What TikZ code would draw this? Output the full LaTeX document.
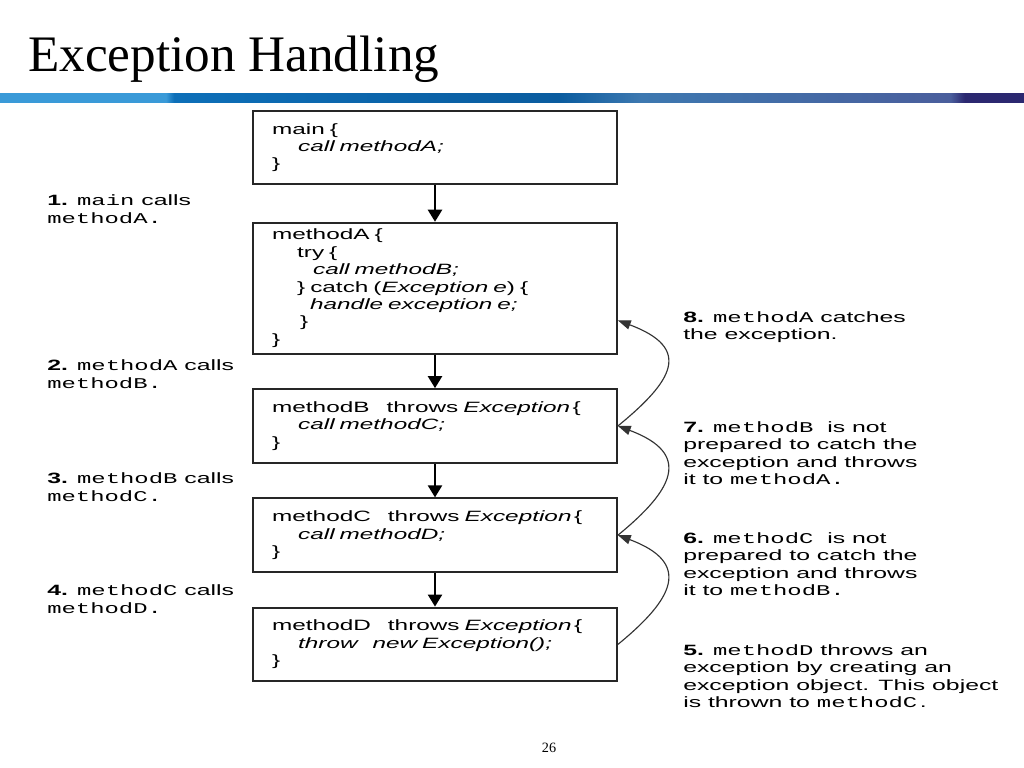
\documentclass[tikz,border=0pt]{standalone}
\usepackage{fontspec}
\usepackage{tikz}
\usetikzlibrary{positioning,arrows.meta}
\setmainfont{Liberation Serif}
\newfontfamily\boxsans[FakeStretch=1.63]{Liberation Sans}
\newfontfamily\labelsans[FakeStretch=1.66]{Liberation Sans}
\newfontfamily\boxmono[FakeStretch=1.6]{Liberation Mono}
\definecolor{barA}{HTML}{3A9AD8}
\definecolor{barB}{HTML}{0D6FB8}
\definecolor{barC}{HTML}{0A5C9F}
\definecolor{barD}{HTML}{3D78B0}
\definecolor{barE}{HTML}{4A5E9C}
\definecolor{barF}{HTML}{2B2870}
\pgfdeclarehorizontalshading{titlebar}{100bp}{color(0bp)=(barA); color(33.1bp)=(barA);
  color(33.5bp)=(barB); color(52.3bp)=(barC); color(56.3bp)=(barD);
  color(71.4bp)=(barE); color(72.1bp)=(barF); color(100bp)=(barF)}
\begin{document}
\begin{tikzpicture}[x=0.703125pt, y=-0.703125pt, node distance=23.6pt,
    code box/.style={draw=black!85, line width=1.4pt, text width=229pt, inner xsep=13.4pt,
      align=left, minimum height=51.8pt, font=\boxsans\fontsize{10.5}{12.2}\selectfont},
    step label/.style={inner sep=0pt, align=left, font=\labelsans\fontsize{10.5}{12.3}\selectfont},
    call arrow/.style={line width=1.4pt, -{Triangle[length=8.5pt,width=10pt]}},
    throw arrow/.style={black!80, line width=0.8pt, -{Triangle[length=9pt,width=6.5pt]}}]

  \useasboundingbox[fill=white] (0,0) rectangle (1024,768);

  % slide title and bar
  \node[anchor=base west, inner sep=0pt, font=\fontsize{36}{40}\selectfont] (title) at (28,72) {Exception Handling};
  \fill[shading=titlebar] (0,94) rectangle (1024,103);
  \node[font=\fontsize{10}{12}\selectfont] (page) at (549,748) {26};

  % call chain
  \node[code box, minimum height=51pt] (main) at (435,147.5) {main \{\\
    \hspace*{18.3pt}\textit{call methodA;}\\
    \}};
  \node[code box, minimum height=92pt] (A) [below=26pt of main] {methodA \{\\
    \hspace*{17.6pt}try \{\\
    \hspace*{28.8pt}\textit{call methodB;}\\
    \hspace*{17.6pt}\} catch (\textit{Exception e}) \{\\
    \hspace*{26.7pt}\textit{handle exception e;}\\
    \hspace*{19.7pt}\}\\
    \}};
  \node[code box] (B) [below=of A] {methodB\hspace{12pt}throws\ \textit{Exception}\,\{\\
    \hspace*{18.3pt}\textit{call methodC;}\\
    \}};
  \node[code box] (C) [below=of B] {methodC\hspace{12pt}throws\ \textit{Exception}\,\{\\
    \hspace*{18.3pt}\textit{call methodD;}\\
    \}};
  \node[code box] (D) [below=of C] {methodD\hspace{12pt}throws\ \textit{Exception}\,\{\\
    \hspace*{18.3pt}\textit{throw\ \ \ new Exception();}\\
    \}};

  \path[call arrow]
    (main) edge (A)
    (A) edge (B)
    (B) edge (C)
    (C) edge (D);

  % exception travels back up
  \draw[throw arrow] (D.east) .. controls +(55,-45) and +(75,28) .. (C.east);
  \draw[throw arrow] (C.east) .. controls +(55,-45) and +(75,28) .. (B.east);
  \draw[throw arrow] (B.east) .. controls +(55,-45) and +(75,28) .. (A.-10);

  % left notes
  \node[step label, anchor=west] (n1) at (47,209) {\textbf{1.} {\boxmono main} calls\\{\boxmono methodA.}};
  \node[step label, anchor=west] (n2) at (47,374) {\textbf{2.} {\boxmono methodA} calls\\{\boxmono methodB.}};
  \node[step label, anchor=west] (n3) at (47,487) {\textbf{3.} {\boxmono methodB} calls\\{\boxmono methodC.}};
  \node[step label, anchor=west] (n4) at (47,599) {\textbf{4.} {\boxmono methodC} calls\\{\boxmono methodD.}};

  % right notes
  \node[step label, anchor=north west] (n8) at (683,311) {\textbf{8.} {\boxmono methodA} catches\\the exception.};
  \node[step label, anchor=north west] (n7) at (683,421) {\textbf{7.} {\boxmono methodB}\ \ is not\\prepared to catch the\\exception and throws\\it to {\boxmono methodA.}};
  \node[step label, anchor=north west] (n6) at (683,532) {\textbf{6.} {\boxmono methodC}\ \ is not\\prepared to catch the\\exception and throws\\it to {\boxmono methodB.}};
  \node[step label, anchor=north west] (n5) at (683,644) {\textbf{5.} {\boxmono methodD} throws an\\exception by creating an\\exception object. This object\\is thrown to {\boxmono methodC}\,.};
\end{tikzpicture}
\end{document}
